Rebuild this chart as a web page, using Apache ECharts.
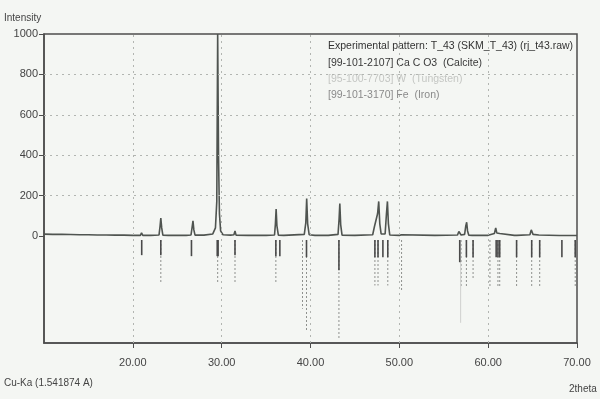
<!DOCTYPE html>
<html>
<head>
<meta charset="utf-8">
<script src="https://cdn.jsdelivr.net/npm/echarts@6/dist/echarts.min.js"></script>
<style>
html,body{margin:0;padding:0;background:#f4f6f3;}
#chart{width:600px;height:399px;}
</style>
</head>
<body>
<div id="chart"></div>
<script>
// ---- DATA ----
// measured pattern: [2theta, intensity]
const pattern = [
  [10.0,9],[11.0,8],[12.0,8],[13.0,7],[14.0,6],[15.0,6],[16.0,5],[17.0,5],[18.0,4],[19.0,4],[20.0,3],
  [20.85,3],[20.98,15],[21.12,3],
  [22.0,3],[22.95,5],[23.07,50],[23.15,88],[23.25,40],[23.38,4],
  [24.0,3],[25.0,3],[26.0,3],[26.55,5],[26.68,45],[26.77,75],[26.87,30],[27.0,4],
  [28.0,4],[29.0,10],[29.3,40],[29.45,170],[29.55,1000],[29.65,380],[29.75,110],[29.88,25],[30.15,6],
  [31.0,4],[31.38,6],[31.5,25],[31.62,4],
  [33.0,3],[35.0,3],[35.95,5],[36.05,60],[36.13,133],[36.22,50],[36.38,4],[37.0,3],
  [39.3,8],[39.47,65],[39.57,185],[39.68,60],[39.85,6],[40.5,3],[42.0,3],
  [43.1,8],[43.22,85],[43.3,160],[43.4,55],[43.55,4],[45.0,3],
  [47.0,6],[47.2,47],[47.35,40],[47.55,110],[47.68,171],[47.8,60],[47.95,10],
  [48.4,10],[48.55,110],[48.66,171],[48.77,60],[48.92,5],
  [50.0,3],[50.25,6],[50.4,3],[54.0,3],
  [56.55,5],[56.7,22],[56.8,20],[56.95,5],
  [57.35,8],[57.48,50],[57.58,68],[57.68,25],[57.82,4],
  [58.2,3],[58.3,8],[58.4,3],[60.0,3],
  [60.7,12],[60.85,40],[60.97,15],[61.1,8],[61.3,12],[61.45,4],
  [62.95,3],[63.1,10],[63.22,3],
  [64.7,6],[64.85,30],[64.93,34],[65.05,8],
  [65.7,5],[65.8,12],[65.92,3],
  [68.0,2],[69.7,2],[69.8,5],[69.9,2],[70.0,2]
];

// reference stick patterns (2theta position, lower end of stick in intensity units)
const stickTop = -20;
const calcitePos   = [21.0,23.15,26.6,29.5,29.6,31.5,36.1,36.55,39.55,43.2,47.25,47.6,48.15,48.7,56.8,57.55,58.3,60.9,61.1,61.3,63.2,64.9,65.8,68.3,69.8];
const calciteEnd   = [-95,-95,-100,-100,-100,-95,-100,-100,-105,-170,-105,-105,-105,-105,-130,-105,-105,-105,-105,-105,-105,-105,-105,-105,-105];
const ironPos      = [23.15,29.55,31.5,36.1,39.1,39.55,43.2,47.25,47.6,48.7,50.25,56.95,57.55,58.3,60.2,61.1,61.3,63.2,64.9,65.8,69.8];
const ironEnd      = [-230,-235,-235,-235,-360,-470,-505,-245,-245,-245,-270,-255,-255,-210,-255,-255,-255,-255,-255,-255,-255];
const tungstenPos  = [56.9];
const tungstenEnd  = [-430];

const xTicks = [20,30,40,50,60,70];
const yTicks = [0,200,400,600,800,1000];
const hGrid = [200,400,600,800];
const vGrid = [20,30,40,50,60];

const legendLines = [
  'Experimental pattern: T_43 (SKM_T_43) (rj_t43.raw)',
  '[99-101-2107] Ca C O3  (Calcite)',
  '[95-100-7703] W  (Tungsten)',
  '[99-101-3170] Fe  (Iron)'
];
const legendColors = ['#333333','#3a3a3a','#c4c6c3','#8a8a8a'];

// ---- CHART ----
const FONT = 'Liberation Sans';
function sticks(pos, end){ return pos.map((p,i)=>[p, stickTop, end[i]]); }
function stickRenderer(color, width, dash){
  return function(params, api){
    const a = api.coord([api.value(0), api.value(1)]);
    const b = api.coord([api.value(0), api.value(2)]);
    return {type:'line', shape:{x1:a[0],y1:a[1],x2:b[0],y2:b[1]},
      style:{stroke:color, lineWidth:width, lineDash:dash}};
  };
}

const chart = echarts.init(document.getElementById('chart'), null, {renderer:'canvas'});
const option = {
  backgroundColor:'#f4f6f3',
  animation:false,
  grid:{left:44, right:23, top:34, bottom:56, show:true, borderColor:'#4d4d4d', borderWidth:1.5, backgroundColor:'transparent'},
  xAxis:{type:'value', min:10, max:70,
    axisLine:{show:true, onZero:false, lineStyle:{color:'#4d4d4d', width:1.5}},
    axisTick:{show:true, customValues:xTicks, length:5, lineStyle:{color:'#4d4d4d'}},
    axisLabel:{customValues:xTicks, formatter:v=>v.toFixed(2), color:'#444', fontFamily:FONT, fontSize:11, margin:14},
    splitLine:{show:false}},
  yAxis:{type:'value', min:-530, max:1000,
    axisLine:{show:true, onZero:false, lineStyle:{color:'#4d4d4d', width:1.5}},
    axisTick:{show:true, customValues:yTicks, length:5, lineStyle:{color:'#4d4d4d'}},
    axisLabel:{customValues:yTicks, formatter:v=>String(v), color:'#444', fontFamily:FONT, fontSize:11, margin:6},
    splitLine:{show:false}},
  series:[
    {type:'line', data:[], silent:true,
      markLine:{silent:true, symbol:'none', label:{show:false},
        lineStyle:{color:'#b2b5b1', type:[2,4], width:1},
        data: hGrid.map(v=>({yAxis:v})).concat(vGrid.map(v=>({xAxis:v})))}},
    {type:'custom', renderItem:stickRenderer('#8f918e',1,[2,2]), data:sticks(ironPos,ironEnd), silent:true, clip:true},
    {type:'custom', renderItem:stickRenderer('#cfd1ce',1,null), data:sticks(tungstenPos,tungstenEnd), silent:true, clip:true},
    {type:'custom', renderItem:stickRenderer('#4a4a4a',1.6,null), data:sticks(calcitePos,calciteEnd), silent:true, clip:true},
    {type:'line', data:pattern, showSymbol:false, clip:true,
      lineStyle:{color:'#4f5450', width:1.6}}
  ],
  graphic:[
    {type:'text', left:4, top:13, style:{text:'Intensity', font:'10px '+FONT, fill:'#444'}},
    {type:'text', left:4, top:378, style:{text:'Cu-Ka (1.541874 A)', font:'10px '+FONT, fill:'#444'}},
    {type:'text', left:569, top:384, style:{text:'2theta', font:'10px '+FONT, fill:'#444'}}
  ].concat(legendLines.map((t,i)=>({type:'text', left:328, top:41+i*16.3,
      style:{text:t, font:'10.5px '+FONT, fill:legendColors[i]}})))
};
chart.setOption(option);
</script>
</body>
</html>
